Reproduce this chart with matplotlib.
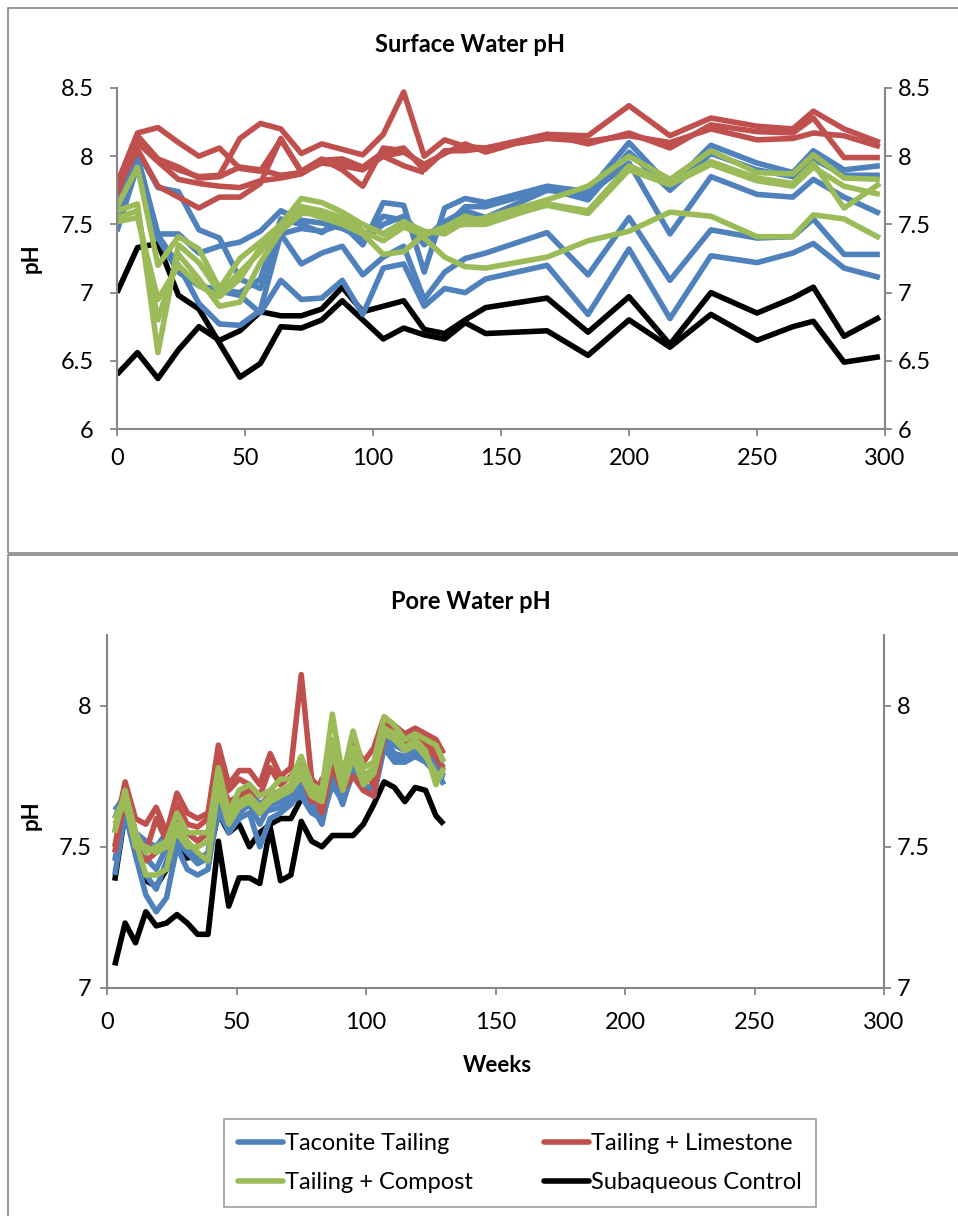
import matplotlib
matplotlib.use("Agg")
import matplotlib.pyplot as plt
from matplotlib.lines import Line2D
from matplotlib.patches import Rectangle

plt.rcParams["font.family"] = ["Lato", "DejaVu Sans"]

BLUE = "#4F81BD"
RED = "#C0504D"
GREEN = "#9BBB59"
BLACK = "#000000"
GRAY = "#868686"

# ---- Surface water data (weeks, pH) ----
surf_weeks = [0, 8, 16, 24, 32, 40, 48, 56, 64, 72, 80, 88, 96, 104, 112, 120,
              128, 136, 144, 168, 184, 200, 216, 232, 250, 264, 272, 284, 298]

surf_taconite = [
    [7.70, 8.04, 7.77, 7.74, 7.46, 7.40, 7.10, 7.03, 7.43, 7.47, 7.45, 7.50, 7.35, 7.66, 7.64, 7.15,
     7.62, 7.69, 7.66, 7.78, 7.74, 8.10, 7.78, 8.08, 7.95, 7.88, 8.04, 7.90, 7.93],
    [7.62, 8.00, 7.43, 7.43, 7.29, 7.34, 7.37, 7.45, 7.60, 7.53, 7.51, 7.47, 7.40, 7.56, 7.53, 7.35,
     7.48, 7.63, 7.63, 7.76, 7.68, 8.03, 7.75, 8.02, 7.90, 7.85, 7.98, 7.86, 7.86],
    [7.48, 7.97, 7.40, 7.19, 7.05, 7.02, 7.00, 7.10, 7.54, 7.50, 7.44, 7.54, 7.38, 7.50, 7.56, 7.40,
     7.52, 7.60, 7.55, 7.75, 7.72, 7.95, 7.43, 7.85, 7.72, 7.70, 7.83, 7.70, 7.58],
    [7.47, 7.95, 7.42, 7.20, 6.92, 6.77, 6.76, 6.87, 7.43, 7.21, 7.29, 7.34, 7.13, 7.26, 7.34, 6.95,
     7.15, 7.25, 7.29, 7.44, 7.13, 7.55, 7.09, 7.46, 7.40, 7.41, 7.54, 7.28, 7.28],
    [7.45, 7.93, 7.40, 7.15, 7.05, 7.01, 6.98, 6.85, 7.09, 6.95, 6.96, 7.09, 6.84, 7.18, 7.21, 6.90,
     7.03, 7.00, 7.10, 7.20, 6.84, 7.32, 6.81, 7.27, 7.22, 7.29, 7.36, 7.18, 7.11],
]

surf_limestone = [
    [7.72, 8.12, 7.97, 7.90, 7.85, 7.86, 8.13, 8.24, 8.20, 8.02, 8.09, 8.05, 8.01, 8.16, 8.47, 8.00,
     8.12, 8.07, 8.06, 8.16, 8.15, 8.37, 8.15, 8.28, 8.22, 8.20, 8.33, 8.20, 8.10],
    [7.80, 8.17, 8.21, 8.10, 8.00, 8.06, 7.91, 7.89, 8.12, 7.89, 7.98, 7.90, 7.78, 8.06, 8.04],
    [7.76, 8.05, 7.78, 7.70, 7.62, 7.70, 7.70, 7.80, 8.13, 7.88, 7.95, 7.93, 7.90, 8.00, 7.93, 7.88],
    [7.74, 8.10, 7.96, 7.83, 7.80, 7.78, 7.77, 7.82, 7.84, 7.87, 7.96, 7.94, 7.92, 8.03, 8.06, 7.90,
     8.04, 8.04, 8.06, 8.13, 8.11, 8.15, 8.10, 8.20, 8.12, 8.13, 8.17, 8.15, 8.07],
    [7.78, 8.15, 7.98, 7.92, 7.84, 7.85, 7.92, 7.90, 7.86, 7.88, 7.97, 7.98, 7.92, 8.00, 8.03, 7.94,
     8.02, 8.09, 8.03, 8.16, 8.09, 8.17, 8.06, 8.23, 8.18, 8.17, 8.28, 7.99, 7.99],
]

surf_compost = [
    [7.63, 7.92, 7.20, 7.41, 7.32, 7.03, 7.25, 7.37, 7.50, 7.69, 7.66, 7.59, 7.50, 7.43, 7.52, 7.45,
     7.43, 7.52, 7.55, 7.68, 7.78, 8.00, 7.83, 8.04, 7.88, 7.87, 8.01, 7.84, 7.83],
    [7.60, 7.65, 6.56, 7.35, 7.22, 7.00, 7.15, 7.30, 7.47, 7.63, 7.60, 7.55, 7.45, 7.38, 7.48, 7.42,
     7.48, 7.50, 7.50, 7.65, 7.60, 7.93, 7.80, 7.96, 7.84, 7.80, 7.95, 7.62, 7.80],
    [7.55, 7.60, 6.80, 7.28, 7.10, 6.90, 6.93, 7.22, 7.45, 7.58, 7.58, 7.51, 7.50, 7.43, 7.52, 7.40,
     7.26, 7.19, 7.18, 7.26, 7.38, 7.45, 7.59, 7.56, 7.41, 7.41, 7.57, 7.54, 7.40],
    [7.52, 7.55, 6.95, 7.20, 7.05, 6.97, 7.10, 7.33, 7.50, 7.60, 7.55, 7.50, 7.43, 7.28, 7.30, 7.43,
     7.48, 7.56, 7.52, 7.64, 7.58, 7.90, 7.79, 7.94, 7.82, 7.78, 7.92, 7.78, 7.72],
]

surf_control = [
    [7.00, 7.33, 7.36, 6.98, 6.88, 6.63, 6.38, 6.48, 6.75, 6.74, 6.80, 6.94, 6.80, 6.66, 6.74, 6.69,
     6.66, 6.78, 6.70, 6.72, 6.54, 6.80, 6.60, 6.84, 6.65, 6.75, 6.79, 6.49, 6.53],
    [6.40, 6.56, 6.37, 6.58, 6.75, 6.65, 6.72, 6.86, 6.83, 6.83, 6.88, 7.04, 6.86, 6.90, 6.94, 6.73,
     6.70, 6.80, 6.89, 6.96, 6.71, 6.97, 6.62, 7.00, 6.85, 6.96, 7.04, 6.68, 6.82],
]

# ---- Pore water data ----
pore_weeks = [3, 7, 11, 15, 19, 23, 27, 31, 35, 39, 43, 47, 51, 55, 59, 63, 67,
              71, 75, 79, 83, 87, 91, 95, 99, 103, 107, 111, 115, 119, 123, 127, 130]

pore_taconite = [
    [7.40, 7.62, 7.47, 7.33, 7.27, 7.32, 7.50, 7.42, 7.40, 7.42, 7.65, 7.55, 7.60, 7.62, 7.50, 7.60, 7.62,
     7.65, 7.70, 7.65, 7.58, 7.75, 7.65, 7.78, 7.70, 7.68, 7.85, 7.80, 7.80, 7.84, 7.80, 7.78, 7.72],
    [7.45, 7.65, 7.50, 7.40, 7.35, 7.45, 7.55, 7.50, 7.45, 7.48, 7.70, 7.58, 7.62, 7.65, 7.58, 7.65, 7.66,
     7.68, 7.72, 7.68, 7.62, 7.78, 7.68, 7.82, 7.72, 7.70, 7.88, 7.83, 7.82, 7.86, 7.82, 7.80, 7.75],
    [7.60, 7.70, 7.55, 7.52, 7.50, 7.55, 7.58, 7.55, 7.52, 7.55, 7.75, 7.62, 7.66, 7.70, 7.65, 7.68, 7.70,
     7.70, 7.74, 7.72, 7.66, 7.80, 7.72, 7.85, 7.74, 7.74, 7.90, 7.86, 7.84, 7.88, 7.85, 7.82, 7.78],
    [7.63, 7.68, 7.52, 7.46, 7.42, 7.50, 7.52, 7.48, 7.44, 7.46, 7.62, 7.56, 7.64, 7.66, 7.62, 7.63, 7.64,
     7.66, 7.68, 7.62, 7.60, 7.72, 7.66, 7.76, 7.70, 7.72, 7.86, 7.82, 7.80, 7.82, 7.80, 7.76, 7.74],
]

pore_limestone = [
    [7.55, 7.73, 7.60, 7.58, 7.64, 7.55, 7.69, 7.62, 7.60, 7.62, 7.86, 7.72, 7.77, 7.77, 7.72, 7.83, 7.75,
     7.78, 8.11, 7.74, 7.70, 7.85, 7.76, 7.88, 7.80, 7.85, 7.96, 7.93, 7.90, 7.92, 7.90, 7.88, 7.83],
    [7.50, 7.70, 7.55, 7.48, 7.60, 7.52, 7.65, 7.58, 7.57, 7.60, 7.83, 7.70, 7.74, 7.72, 7.68, 7.78, 7.72,
     7.75, 7.80, 7.70, 7.62, 7.80, 7.72, 7.82, 7.76, 7.72, 7.95, 7.90, 7.88, 7.90, 7.86, 7.84, 7.80],
    [7.48, 7.68, 7.50, 7.45, 7.48, 7.50, 7.60, 7.55, 7.52, 7.55, 7.75, 7.66, 7.68, 7.70, 7.62, 7.70, 7.68,
     7.72, 7.76, 7.66, 7.74, 7.78, 7.70, 7.75, 7.70, 7.68, 7.90, 7.88, 7.86, 7.88, 7.84, 7.82, 7.77],
]

pore_compost = [
    [7.55, 7.70, 7.55, 7.48, 7.50, 7.52, 7.62, 7.55, 7.55, 7.55, 7.78, 7.62, 7.70, 7.72, 7.68, 7.70, 7.74,
     7.74, 7.82, 7.72, 7.70, 7.97, 7.75, 7.91, 7.78, 7.80, 7.96, 7.93, 7.88, 7.90, 7.88, 7.86, 7.80],
    [7.60, 7.68, 7.52, 7.40, 7.40, 7.42, 7.58, 7.52, 7.48, 7.45, 7.72, 7.60, 7.66, 7.68, 7.64, 7.68, 7.70,
     7.72, 7.78, 7.70, 7.68, 7.88, 7.72, 7.85, 7.75, 7.78, 7.92, 7.90, 7.85, 7.88, 7.84, 7.72, 7.78],
    [7.58, 7.66, 7.50, 7.50, 7.48, 7.50, 7.55, 7.50, 7.50, 7.52, 7.70, 7.58, 7.64, 7.66, 7.62, 7.66, 7.68,
     7.70, 7.75, 7.68, 7.66, 7.84, 7.70, 7.82, 7.72, 7.76, 7.90, 7.88, 7.84, 7.86, 7.82, 7.76, 7.75],
]

pore_control = [
    [7.08, 7.23, 7.16, 7.27, 7.22, 7.23, 7.26, 7.23, 7.19, 7.19, 7.52, 7.29, 7.39, 7.39, 7.37, 7.57, 7.38,
     7.40, 7.59, 7.52, 7.50, 7.54, 7.54, 7.54, 7.58, 7.65, 7.73, 7.71, 7.66, 7.71, 7.70, 7.61, 7.58],
    [7.38, 7.62, 7.50, 7.38, 7.36, 7.42, 7.50, 7.46, 7.47, 7.45, 7.62, 7.55, 7.58, 7.50, 7.55, 7.58, 7.60,
     7.60, 7.67],
]

legend_labels = ["Taconite Tailing", "Tailing + Limestone", "Tailing + Compost", "Subaqueous Control"]

W, H = 958, 1216
LW = 4.0
TICK_FS = 17
fig = plt.figure(figsize=(W / 100, H / 100), dpi=100)


def px_axes(left, top, right, bottom):
    return fig.add_axes([left / W, 1 - bottom / H, (right - left) / W, (bottom - top) / H])


def draw_group(ax, weeks, groups):
    for series_list, color in groups:
        for ys in series_list:
            ax.plot(weeks[:len(ys)], ys, color=color, lw=LW,
                    solid_joinstyle="round", solid_capstyle="butt")


def style_axes(ax, yticks, ylim, xpad, lpad, rpad):
    ax.set_xlim(0, 300)
    ax.set_ylim(*ylim)
    ax.set_xticks(range(0, 301, 50))
    ax.set_yticks(yticks)
    ax.set_yticklabels([f"{t:g}" for t in yticks])
    ax.spines["top"].set_visible(False)
    ax.spines["right"].set_visible(False)
    for side in ["left", "bottom"]:
        ax.spines[side].set_color(GRAY)
        ax.spines[side].set_linewidth(1.5)
    ax.tick_params(axis="both", direction="out", length=5, width=1.3, color=GRAY,
                   labelsize=TICK_FS)
    ax.tick_params(axis="x", pad=xpad)
    ax.tick_params(axis="y", pad=lpad)
    ax.set_facecolor("none")

    # right-hand duplicate axis
    axr = ax.twinx()
    axr.set_ylim(*ylim)
    axr.set_yticks(yticks)
    axr.set_yticklabels([f"{t:g}" for t in yticks])
    for side in ["top", "left", "bottom"]:
        axr.spines[side].set_visible(False)
    axr.spines["right"].set_color(GRAY)
    axr.spines["right"].set_linewidth(1.5)
    axr.tick_params(axis="y", direction="out", length=5, width=1.3, color=GRAY,
                    labelsize=TICK_FS, pad=rpad)
    return axr


# panel frames
fig.add_artist(Rectangle((8 / W, 1 - 553 / H), 1.0, (553 - 8) / H, transform=fig.transFigure,
                         fill=False, edgecolor=GRAY, lw=1.2))
fig.add_artist(Rectangle((8 / W, -0.05), 1.0, 0.05 + (1216 - 555) / H, transform=fig.transFigure,
                         fill=False, edgecolor=GRAY, lw=1.2))

# ---- Surface water ----
ax1 = px_axes(117, 88, 885, 429)
draw_group(ax1, surf_weeks, [(surf_control, BLACK), (surf_taconite, BLUE),
                             (surf_limestone, RED), (surf_compost, GREEN)])
style_axes(ax1, [6, 6.5, 7, 7.5, 8, 8.5], (6, 8.5), xpad=9, lpad=12, rpad=4)
fig.text(470 / W, 1 - 45 / H, "Surface Water pH", ha="center", va="center",
         fontsize=17, fontweight="bold")
fig.text(31 / W, 1 - 258 / H, "pH", ha="center", va="center", rotation=90,
         fontsize=16, fontweight="bold")

# ---- Pore water ----
ax2 = px_axes(107, 635, 884, 988)
draw_group(ax2, pore_weeks, [(pore_control, BLACK), (pore_taconite, BLUE),
                             (pore_limestone, RED), (pore_compost, GREEN)])
style_axes(ax2, [7, 7.5, 8], (7, 8.25), xpad=12, lpad=6, rpad=4)
fig.text(471 / W, 1 - 601 / H, "Pore Water pH", ha="center", va="center",
         fontsize=17, fontweight="bold")
fig.text(31 / W, 1 - 815 / H, "pH", ha="center", va="center", rotation=90,
         fontsize=16, fontweight="bold")
fig.text(497 / W, 1 - 1065 / H, "Weeks", ha="center", va="center",
         fontsize=16, fontweight="bold")

# ---- legend ----
handles = [Line2D([], [], color=c, lw=LW, solid_capstyle="round")
           for c in [BLUE, GREEN, RED, BLACK]]
labels = [legend_labels[0], legend_labels[2], legend_labels[1], legend_labels[3]]
leg = fig.legend(handles, labels, ncol=2, loc="center", bbox_to_anchor=(520 / W, 1 - 1163 / H),
                 fontsize=17, frameon=True, fancybox=False, edgecolor=GRAY,
                 handlelength=1.9, handletextpad=0.1, columnspacing=3.0, borderpad=0.6,
                 labelspacing=0.75)
leg.get_frame().set_linewidth(1.2)

fig.savefig("out.png", dpi=100)
